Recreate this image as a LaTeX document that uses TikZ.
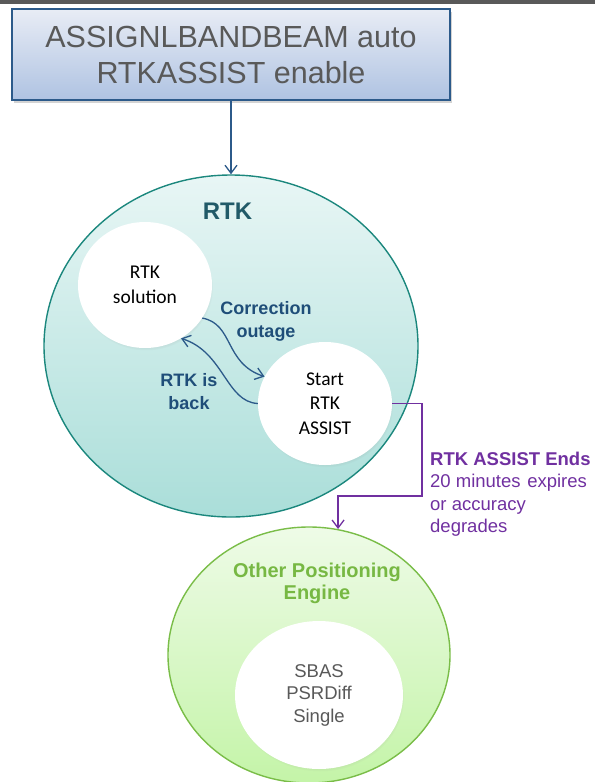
\documentclass[tikz,border=0pt]{standalone}
\usepackage{fontspec}
\setmainfont{Liberation Sans}
\newfontfamily\calib{Carlito}
\usetikzlibrary{shapes.geometric,arrows.meta,shadows,fadings}
\definecolor{bar}{HTML}{595959}
\definecolor{boxtop}{HTML}{E8ECF5}
\definecolor{boxbot}{HTML}{AFC3E2}
\definecolor{boxline}{HTML}{2C5A8A}
\definecolor{txtgray}{HTML}{595959}
\definecolor{arrblue}{HTML}{2C5A8A}
\definecolor{lblblue}{HTML}{1F4E79}
\definecolor{rtktop}{HTML}{E8F6F5}
\definecolor{rtkbot}{HTML}{AADED9}
\definecolor{rtkline}{HTML}{1B877D}
\definecolor{rtktitle}{HTML}{215A68}
\definecolor{purp}{HTML}{7030A0}
\definecolor{grtop}{HTML}{EEFBE7}
\definecolor{grbot}{HTML}{C4F4A8}
\definecolor{grline}{HTML}{7ABD48}
\definecolor{grtitle}{HTML}{77B843}
\tikzset{
  cmdbox/.style={rectangle, minimum width=438pt, minimum height=91pt, inner sep=0pt,
    draw=boxline, line width=1.2pt, top color=boxtop, bottom color=boxbot,
    align=center, font=\fontsize{30.5}{36}\selectfont, text=txtgray,
    drop shadow={shadow xshift=1.5pt, shadow yshift=-2.5pt, opacity=0.35}},
  rtkell/.style={ellipse, minimum width=374pt, minimum height=342pt, inner sep=0pt,
    draw=rtkline, line width=1.4pt, top color=rtktop, bottom color=rtkbot},
  grell/.style={ellipse, minimum width=282pt, minimum height=256pt, inner sep=0pt,
    draw=grline, line width=1.4pt, top color=grtop, bottom color=grbot},
  whiteell/.style={ellipse, fill=white, inner sep=0pt, align=center,
    font=\calib\fontsize{19.5}{24.5}\selectfont, text=black,
    circular drop shadow={shadow xshift=1pt, shadow yshift=-2.5pt, opacity=0.3, shadow scale=1.0}},
  arr/.style={draw=arrblue, line width=1.3pt, -{Straight Barb[length=8pt,width=12pt]}},
  parr/.style={draw=purp, line width=1.3pt, -{Straight Barb[length=8pt,width=12pt]}},
  lbl/.style={font=\bfseries\fontsize{18}{22.5}\selectfont, text=lblblue, align=center, inner sep=0pt},
}
\begin{document}
\begin{tikzpicture}[x=1pt,y=-1pt]
\useasboundingbox (0,0) rectangle (595,782);
\fill[bar] (0,0) rectangle (595,4);

\node[cmdbox] (cmd) at (231,54.5) {ASSIGNLBANDBEAM auto\\RTKASSIST enable};

\node[rtkell] (rtk) at (231,346) {};
\draw[arr] (cmd) -- (rtk);
\node[font=\bfseries\fontsize{24}{28}\selectfont, text=rtktitle, inner sep=0pt] (rtkt) at (227.5,211) {RTK};

\node[whiteell, minimum width=134pt, minimum height=126pt] (sol) at (145,285) {RTK\\solution};
\node[whiteell, minimum width=134pt, minimum height=123pt] (st) at (325,403.5) {Start\\RTK\\ASSIST};

\draw[arr] (sol.-30) .. controls (234,324) and (224,363) .. (st.156);
\draw[arr] (st.180) .. controls (226,402) and (224,352) .. (sol.-56);
\node[lbl] (co) at (266,321.5) {Correction\\outage};
\node[lbl] (rb) at (189,391.5) {RTK is\\back};

\node[grell] (oth) at (309,655) {};
\node[font=\bfseries\fontsize{20}{22.5}\selectfont, text=grtitle, align=center, inner sep=0pt] (otht) at (317,583.5) {Other Positioning\\Engine};
\node[whiteell, minimum width=168pt, minimum height=148pt, font=\fontsize{18.5}{22.5}\selectfont, text=txtgray] (inn) at (319,695) {SBAS\\PSRDiff\\Single};

\coordinate (pc) at (422,496);
\draw[parr] (st.east) -| (pc) -| (oth.77);
\node[anchor=north west, inner sep=0pt, align=left, text=purp, font=\fontsize{18.5}{22.5}\selectfont] (ends) at (430,451.7)
  {\textbf{RTK ASSIST Ends}\\20 minutes\hspace{1.5pt} expires\\or accuracy\\degrades};
\end{tikzpicture}
\end{document}
